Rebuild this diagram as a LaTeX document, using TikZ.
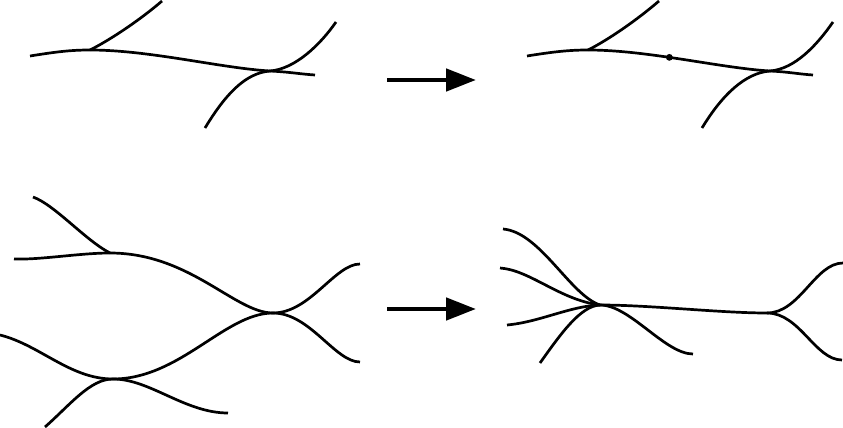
\documentclass[tikz,border=0pt]{standalone}
\usetikzlibrary{arrows.meta}

\tikzset{
  strand/.style={line width=1.35pt},
  bigarrow/.style={line width=2.4pt,-{Triangle[length=15pt,width=11pt]}},
  vertexdot/.style={circle,fill=black,inner sep=0pt,minimum size=3.4pt}
}

\begin{document}
\begin{tikzpicture}[x=0.5pt,y=-0.5pt]

  \useasboundingbox (0,0) rectangle (843,428);

  % top left
  \coordinate (tlA) at (30,56);
  \coordinate (tlJ) at (90,50);
  \coordinate (tlK) at (270,71);
  \coordinate (tlE) at (315,75);
  \coordinate (tlU) at (162,1);
  \coordinate (tlR) at (336,22);
  \coordinate (tlD) at (205,128);
  \draw[strand] (tlA) .. controls +(25,-4) and +(-20,0) .. (tlJ)
                      .. controls +(60,0) and +(-50,-3) .. (tlK)
                      .. controls +(20,1) and +(-15,-1) .. (tlE);
  \draw[strand] (tlJ) .. controls +(20,-10) and +(-22,19) .. (tlU);
  \draw[strand] (tlD) .. controls +(20,-33) and +(-25,2) .. (tlK)
                      .. controls +(25,-2) and +(-16,23) .. (tlR);

  % top right
  \coordinate (trA) at (527,56);
  \coordinate (trJ) at (588,50);
  \coordinate (trK) at (770,71);
  \coordinate (trE) at (813,75);
  \coordinate (trU) at (659,1);
  \coordinate (trR) at (833,22);
  \coordinate (trD) at (702,128);
  \draw[strand] (trA) .. controls +(25,-4) and +(-20,0) .. (trJ)
                      .. controls +(60,0) and +(-50,-3) .. (trK)
                         node[pos=0.43,vertexdot] (trM) {}
                      .. controls +(20,1) and +(-15,-1) .. (trE);
  \draw[strand] (trJ) .. controls +(20,-10) and +(-22,19) .. (trU);
  \draw[strand] (trD) .. controls +(20,-33) and +(-25,2) .. (trK)
                      .. controls +(25,-2) and +(-16,23) .. (trR);

  % bottom left
  \coordinate (blA) at (33,197);
  \coordinate (blB) at (14,259);
  \coordinate (blP) at (110,253);
  \coordinate (blQ) at (273,313);
  \coordinate (blS) at (113,379);
  \coordinate (blC) at (0,335);
  \coordinate (blD) at (45,427);
  \coordinate (blE) at (228,413);
  \coordinate (blU) at (360,264);
  \coordinate (blL) at (360,362);
  \draw[strand] (blA) .. controls +(22,8) and +(-25,-13) .. (blP);
  \draw[strand] (blB) .. controls +(26,1) and +(-30,0) .. (blP)
                      .. controls +(80,0) and +(-38,0) .. (blQ);
  \draw[strand] (blQ) .. controls +(37,0) and +(-25,0) .. (blU);
  \draw[strand] (blQ) .. controls +(37,0) and +(-25,0) .. (blL);
  \draw[strand] (blC) .. controls +(40,10) and +(-43,0) .. (blS)
                      .. controls +(67,0) and +(-48,0) .. (blQ);
  \draw[strand] (blD) .. controls +(25,-22) and +(-23,0) .. (blS)
                      .. controls +(37,0) and +(-43,0) .. (blE);

  % bottom right
  \coordinate (brA) at (503,229);
  \coordinate (brB) at (500,268);
  \coordinate (brC) at (507,325);
  \coordinate (brD) at (540,363);
  \coordinate (brK) at (600,305);
  \coordinate (brE) at (693,354);
  \coordinate (brM) at (767,313);
  \coordinate (brU) at (843,263);
  \coordinate (brL) at (842,360);
  \draw[strand] (brA) .. controls +(37,3) and +(-30,-10) .. (brK);
  \draw[strand] (brB) .. controls +(30,2) and +(-40,-5) .. (brK);
  \draw[strand] (brC) .. controls +(33,-3) and +(-30,1) .. (brK);
  \draw[strand] (brD) .. controls +(20,-28) and +(-20,1) .. (brK);
  \draw[strand] (brK) .. controls +(30,0) and +(-28,0) .. (brE);
  \draw[strand] (brK) .. controls +(50,0) and +(-47,0) .. (brM);
  \draw[strand] (brM) .. controls +(33,0) and +(-28,0) .. (brU);
  \draw[strand] (brM) .. controls +(33,0) and +(-27,0) .. (brL);

  % arrows
  \coordinate (arA) at (387,80);
  \coordinate (arB) at (476,80);
  \coordinate (arC) at (387,309);
  \coordinate (arD) at (476,309);
  \draw[bigarrow] (arA) -- (arB);
  \draw[bigarrow] (arC) -- (arD);

\end{tikzpicture}
\end{document}
